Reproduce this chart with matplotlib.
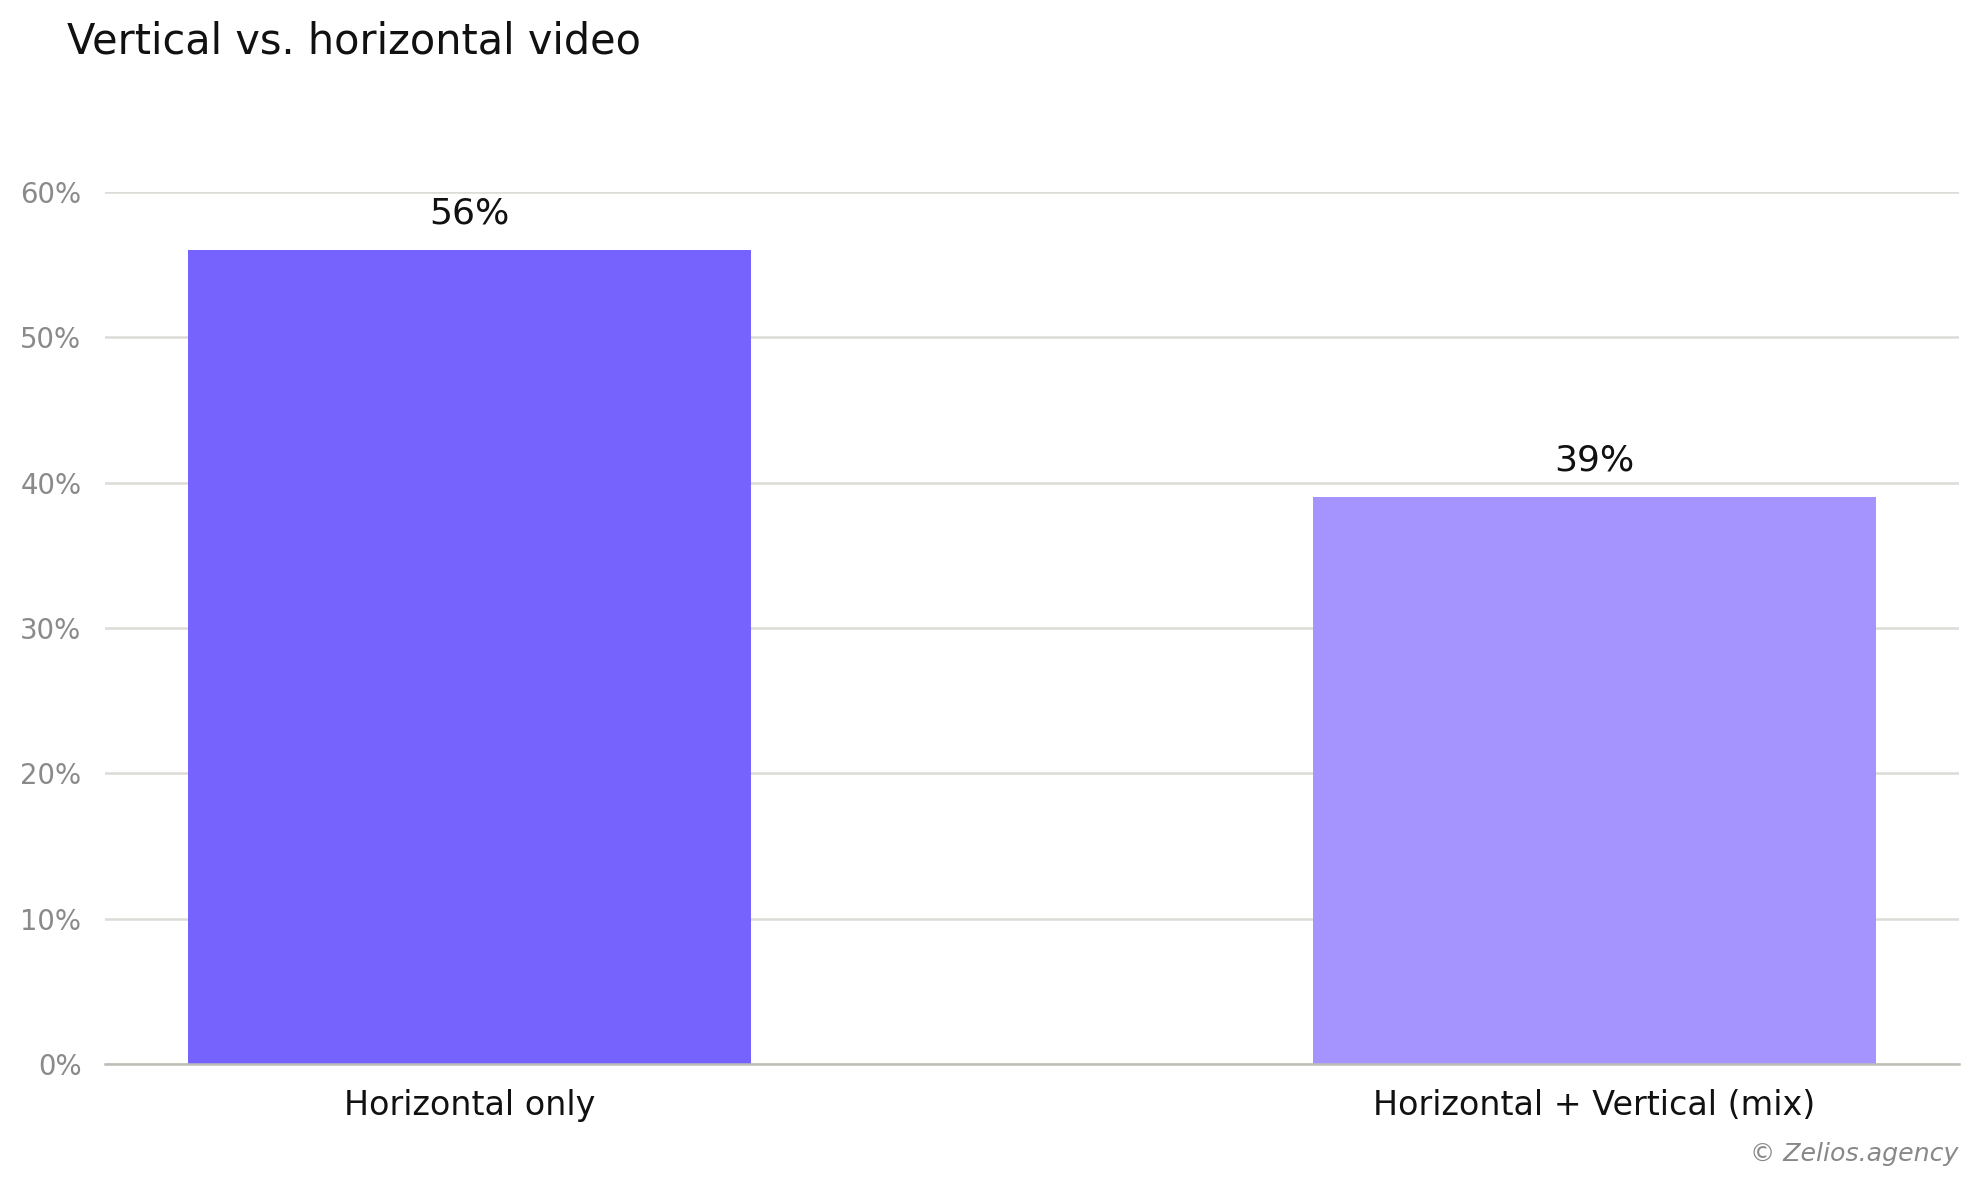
import matplotlib
matplotlib.use("Agg")
import matplotlib.pyplot as plt
from matplotlib.ticker import FuncFormatter

categories = ["Horizontal only", "Horizontal + Vertical (mix)"]
shares = [56, 39]
bar_colors = ["#7662fc", "#a593fe"]
y_ticks = [0, 10, 20, 30, 40, 50, 60]

fig = plt.figure(figsize=(19.79, 11.86), dpi=100)
ax = fig.add_axes([0.0531, 0.1029, 0.9368, 0.7352])

x = range(len(categories))
bars = ax.bar(x, shares, width=0.5, color=bar_colors, zorder=3)

for b, v in zip(bars, shares):
    ax.annotate(f"{v}%", (b.get_x() + b.get_width() / 2, v),
                xytext=(0, 19), textcoords="offset points",
                ha="center", va="baseline", fontsize=26, color="#111111",
                annotation_clip=False)

ax.set_xlim(-0.324, 1.324)
ax.set_ylim(0, 60)
ax.set_yticks(y_ticks)
ax.yaxis.set_major_formatter(FuncFormatter(lambda v, p: f"{v:.0f}%"))
ax.set_xticks(list(x))
ax.set_xticklabels(categories)

ax.grid(axis="y", color="#dcdbd6", linewidth=1.8, zorder=0)
ax.tick_params(axis="y", length=0, pad=17, labelsize=19.8, labelcolor="#8a8a8a")
ax.tick_params(axis="x", length=0, pad=18, labelsize=24, labelcolor="#111111")

for s in ["top", "right", "left"]:
    ax.spines[s].set_visible(False)
ax.spines["bottom"].set_color("#bdbdb5")
ax.spines["bottom"].set_linewidth(1.8)
ax.spines["bottom"].set_zorder(4)

fig.text(67 / 1979, 1 - 53 / 1186, "Vertical vs. horizontal video",
         fontsize=29.9, color="#111111", ha="left", va="baseline")
fig.text(1959 / 1979, 1 - 1161 / 1186, "© Zelios.agency",
         fontsize=18.2, color="#888888", style="italic",
         ha="right", va="baseline")

fig.savefig("out.png", dpi=100)
